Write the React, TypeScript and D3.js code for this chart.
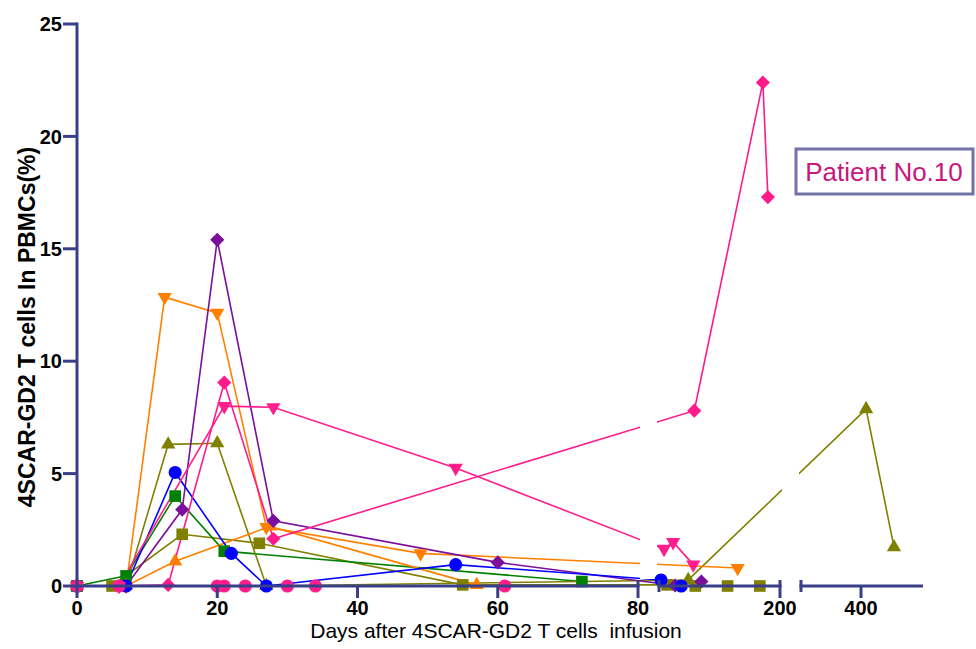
import * as d3 from 'd3'

const W = 976, H = 649

// broken x axis: 0-80 | 80-200 | 200-600 days
const segDomains = [[0, 80], [80, 200], [200, 600]]
const segRanges = [[77, 638], [659, 780], [801, 921]]
const segTicks = [[0, 20, 40, 60, 80], [80, 200], [200, 400]]
const segTickLabels = [['0', '20', '40', '60', '80'], ['', '200'], ['', '400']]
const yTicks = [0, 5, 10, 15, 20, 25]

// one array pair per patient, days after infusion / % of PBMCs
const blueDays = [0, 7, 14, 22, 27, 54, 82, 102]
const blueVals = [0, 0, 5.05, 1.45, 0, 0.95, 0.27, 0]
const greenDays = [0, 7, 14, 21, 72]
const greenVals = [0, 0.45, 4.0, 1.55, 0.2]
const oliveSqDays = [0, 5, 15, 26, 55, 88, 116, 148, 180]
const oliveSqVals = [0, 0, 2.3, 1.9, 0.05, 0.05, 0, 0, 0]
const oliveTriDays = [0, 7, 13, 20, 27, 109, 417, 510]
const oliveTriVals = [0, 0, 6.3, 6.35, 0, 0.27, 7.87, 1.73]
const purpleDays = [0, 7, 15, 20, 28, 60, 96, 122]
const purpleVals = [0, 0, 3.4, 15.4, 2.9, 1.05, 0.02, 0.2]
const orangeDownDays = [0, 7, 12.5, 20, 27, 49, 158]
const orangeDownVals = [0, 0, 12.85, 12.15, 2.62, 1.45, 0.8]
const orangeUpDays = [0, 7, 14, 27.5, 57]
const orangeUpVals = [0, 0, 1.1, 2.65, 0.05]
const pinkDownDays = [0, 6, 21, 28, 54, 85, 94, 114]
const pinkDownVals = [0, 0, 8.0, 7.95, 5.25, 1.65, 1.95, 0.95]
const pinkDiamondDays = [0, 6, 13, 21, 28, 115, 183, 188]
const pinkDiamondVals = [0, 0, 0.05, 9.05, 2.1, 7.8, 22.4, 17.3]
const pinkCircleDays = [0, 6, 20, 21, 24, 30, 34, 61]
const pinkCircleVals = [0, 0, 0, 0, 0, 0, 0, 0]

const series = [
  { days: oliveSqDays, vals: oliveSqVals, color: '#808000', shape: 'square' },
  { days: greenDays, vals: greenVals, color: '#008000', shape: 'square' },
  { days: oliveTriDays, vals: oliveTriVals, color: '#808000', shape: 'up' },
  { days: orangeUpDays, vals: orangeUpVals, color: '#ff8000', shape: 'up' },
  { days: orangeDownDays, vals: orangeDownVals, color: '#ff8000', shape: 'down' },
  { days: purpleDays, vals: purpleVals, color: '#7a0f9c', shape: 'diamond' },
  { days: blueDays, vals: blueVals, color: '#0000ff', shape: 'circle' },
  { days: pinkDownDays, vals: pinkDownVals, color: '#ff1e8c', shape: 'down' },
  { days: pinkDiamondDays, vals: pinkDiamondVals, color: '#ff1a8c', shape: 'diamond' },
  { days: pinkCircleDays, vals: pinkCircleVals, color: '#ff1e8c', shape: 'circle' },
]

const segScales = segDomains.map((d, i) => d3.scaleLinear().domain(d).range(segRanges[i]))
const x = (d: number) => {
  const i = d <= 80 ? 0 : d <= 200 ? 1 : 2
  return segScales[i](d)
}
const y = d3.scaleLinear().domain([0, 25]).range([586, 24])

const line = d3.line<[number, number]>().x(p => x(p[0])).y(p => y(p[1]))

const symbols: Record<string, { path: string | null, rot: number }> = {
  circle: { path: d3.symbol().type(d3.symbolCircle).size(135)(), rot: 0 },
  square: { path: d3.symbol().type(d3.symbolSquare).size(135)(), rot: 0 },
  diamond: { path: d3.symbol().type(d3.symbolSquare).size(100)(), rot: 45 },
  up: { path: d3.symbol().type(d3.symbolTriangle).size(88)(), rot: 0 },
  down: { path: d3.symbol().type(d3.symbolTriangle).size(88)(), rot: 180 },
}

const axisColor = '#3a3f8a'
const font = 'Liberation Sans, Arial, sans-serif'

export default function App() {
  return (
    <svg width={W} height={H} style={{ position: 'absolute', left: 0, top: 0, background: '#fff' }} fontFamily={font}>
      {/* lines */}
      <g fill="none" strokeWidth={1.6}>
        {series.map((s, i) => (
          <path key={i} d={line(s.days.map((d, j) => [d, s.vals[j]]) as [number, number][]) || ''} stroke={s.color} />
        ))}
      </g>
      {/* gaps at the axis breaks */}
      <g fill="#fff">
        {segRanges.slice(0, -1).map((r, i) => (
          <rect key={i} x={r[1] + 2} y={0} width={segRanges[i + 1][0] - r[1] - 4} height={579} />
        ))}
      </g>
      {/* markers */}
      <g>
        {series.map((s, i) => (
          <g key={i} fill={s.color}>
            {s.days.map((d, j) => (
              <path key={j} d={symbols[s.shape].path || ''}
                transform={`translate(${x(d)},${y(s.vals[j])}) rotate(${symbols[s.shape].rot})`} />
            ))}
          </g>
        ))}
      </g>
      {/* y axis */}
      <g stroke={axisColor} strokeWidth={3}>
        <line x1={77} x2={77} y1={y(25) - 1.5} y2={y(0) + 1.5} />
        {yTicks.map(t => <line key={t} x1={63} x2={77} y1={y(t)} y2={y(t)} />)}
      </g>
      <g fontSize={20} fontWeight="bold" textAnchor="end" fill="#000">
        {yTicks.map(t => <text key={t} x={62} y={y(t)} dy="0.36em">{t}</text>)}
      </g>
      <text transform={`translate(35,${(y(0) + y(25)) / 2 + 22}) rotate(-90)`} textAnchor="middle"
        fontSize={23} fontWeight="bold" fill="#000">4SCAR-GD2 T cells In PBMCs(%)</text>
      {/* x axis, three segments */}
      {segRanges.map((r, i) => (
        <g key={i}>
          <line x1={r[0] - 1.5} x2={i === 2 ? r[1] + 2 : r[1] + 1.5} y1={586} y2={586} stroke={axisColor} strokeWidth={3} />
          {segTicks[i].map((t, k) => {
            const px = segScales[i](t)
            const isEdge = (k === 0 && i > 0) || (k === segTicks[i].length - 1 && i < 2)
            const labelled = segTickLabels[i][k] !== ''
            return (
              <g key={k}>
                <line x1={px} x2={px} y1={isEdge ? 580 : 586} y2={labelled ? 598 : 592} stroke={axisColor} strokeWidth={3} />
                {labelled && (
                  <text x={px} y={615} textAnchor="middle" fontSize={20} fontWeight="bold" fill="#000">{segTickLabels[i][k]}</text>
                )}
              </g>
            )
          })}
        </g>
      ))}
      <text x={496} y={638} textAnchor="middle" fontSize={21} fill="#000" style={{ whiteSpace: 'pre' }}>
        Days after 4SCAR-GD2 T cells  infusion
      </text>
      {/* patient label */}
      <rect x={796} y={149} width={177} height={45} fill="#fff" stroke="#7272a8" strokeWidth={3} />
      <text x={884} y={181} textAnchor="middle" fontSize={26} fill="#c8177a">Patient No.10</text>
    </svg>
  )
}
